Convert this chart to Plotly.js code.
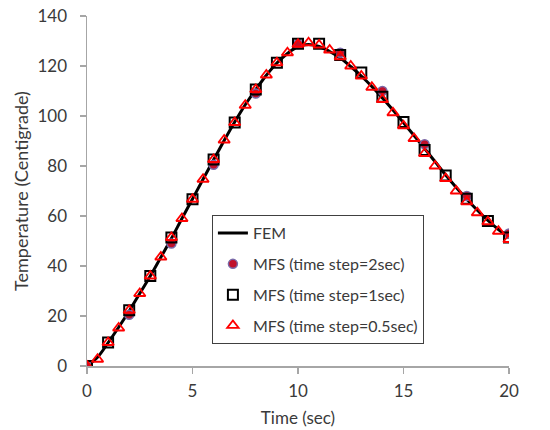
<!DOCTYPE html>
<html>
<head>
<meta charset="utf-8">
<script src="https://cdn.plot.ly/plotly-3.0.1.min.js"></script>
<style>html,body{margin:0;padding:0;background:#fff;}#chart{width:550px;height:430px;}</style>
</head>
<body>
<div id="chart"></div>
<script>
// FEM solution (smooth curve)
const femTime = [0,0.5,1,1.5,2,2.5,3,3.5,4,4.5,5,5.5,6,6.5,7,7.5,8,8.5,9,9.5,10,10.5,11,11.5,12,12.5,13,13.5,14,14.5,15,15.5,16,16.5,17,17.5,18,18.5,19,19.5,20];
const femTemp = [0,3.5,9.3,15.5,22,29,36,43.5,51,59,66.8,74.7,82.5,90.2,97.6,104.5,110.6,116.3,121.2,125,127.8,128.6,127.8,125.8,123.2,119.8,116,111.8,107.2,102.4,97.3,92.2,87,81.7,76.4,71.4,66.7,62.3,58.2,54.6,51.3];

// MFS, time step = 2 sec
const mfs2Time = [0,2,4,6,8,10,12,14,16,18,20];
const mfs2Temp = [0,20.5,49,80.5,109,128.8,125.3,110,88.7,68,53];

// MFS, time step = 1 sec
const mfs1Time = [0,1,2,3,4,5,6,7,8,9,10,11,12,13,14,15,16,17,18,19,20];
const mfs1Temp = [0,9.4,22.3,36,51.4,66.7,82.6,97.4,110.6,121.3,128.9,128.9,124.4,117.4,107.7,97.6,86.4,76.2,66.9,58,51.4];

// MFS, time step = 0.5 sec
const mfs05Time = [0,0.5,1,1.5,2,2.5,3,3.5,4,4.5,5,5.5,6,6.5,7,7.5,8,8.5,9,9.5,10,10.5,11,11.5,12,12.5,13,13.5,14,14.5,15,15.5,16,16.5,17,17.5,18,18.5,19,19.5,20];
const mfs05Temp = [0,2.7,9.4,15.2,22.3,29,36,43.6,51.4,59,66.7,74.7,82.6,90.4,97.4,104.3,110.6,116.4,121.3,125.3,128.7,129.3,128.4,126.4,123.7,120,116,111.5,106.6,101.3,96.1,91,85,80,75,70,65.7,61.3,57.7,53.9,50.6];

const seriesNames = ['FEM','MFS (time step=2sec)','MFS (time step=1sec)','MFS (time step=0.5sec)'];
const xTicks = [0,5,10,15,20];
const yTicks = [0,20,40,60,80,100,120,140];

const FONT = 'Lato, "Open Sans", sans-serif';
const TXT = '#3a3a3a';
const traces = [
  {x: femTime, y: femTemp, name: seriesNames[0], mode: 'lines', type: 'scatter',
   line: {color: '#000000', width: 3, shape: 'spline'}, legendgroup: 'a'},
  {x: mfs2Time, y: mfs2Temp, name: seriesNames[1], mode: 'markers', type: 'scatter',
   marker: {symbol: 'circle', size: 9, color: '#c0102a', line: {color: '#7a6aa8', width: 1.5}}, legendgroup: 'b'},
  {x: mfs1Time, y: mfs1Temp, name: seriesNames[2], mode: 'markers', type: 'scatter',
   marker: {symbol: 'square-open', size: 10, color: '#000000', line: {width: 2}}, legendgroup: 'c'},
  {x: mfs05Time, y: mfs05Temp, name: seriesNames[3], mode: 'markers', type: 'scatter',
   marker: {symbol: 'triangle-up-open', size: 10, color: '#ff0000', line: {width: 1.8}}, legendgroup: 'd'}
];

const layout = {
  width: 550, height: 430,
  margin: {l: 87, r: 41, t: 16, b: 64},
  paper_bgcolor: '#ffffff', plot_bgcolor: '#ffffff',
  font: {family: FONT, size: 17, color: TXT},
  showlegend: true,
  legend: {
    x: 0.296, y: 0.431, xanchor: 'left', yanchor: 'top',
    bordercolor: '#404040', borderwidth: 1, bgcolor: '#ffffff',
    font: {family: FONT, size: 16, color: TXT},
    traceorder: 'grouped', tracegroupgap: 7
  },
  xaxis: {
    range: [0, 20], tickvals: xTicks, ticktext: xTicks.map(String),
    showgrid: false, zeroline: false, showline: true, linecolor: '#a6a6a6', linewidth: 1.5,
    ticks: 'outside', ticklen: 6, tickcolor: '#a6a6a6', tickwidth: 1.5,
    ticklabelstandoff: 3,
    tickfont: {family: FONT, size: 17, color: TXT},
    title: {text: 'Time (sec)', font: {family: FONT, size: 17, color: TXT}, standoff: 12}
  },
  yaxis: {
    range: [0, 140], tickvals: yTicks, ticktext: yTicks.map(String),
    showgrid: false, zeroline: false, showline: true, linecolor: '#a6a6a6', linewidth: 1.5,
    ticks: 'outside', ticklen: 6, tickcolor: '#a6a6a6', tickwidth: 1.5,
    ticklabelstandoff: 9,
    tickfont: {family: FONT, size: 17, color: TXT},
    title: {text: 'Temperature (Centigrade)', font: {family: FONT, size: 18, color: TXT}, standoff: 4}
  }
};

Plotly.newPlot('chart', traces, layout, {displayModeBar: false, staticPlot: true});
</script>
</body>
</html>
